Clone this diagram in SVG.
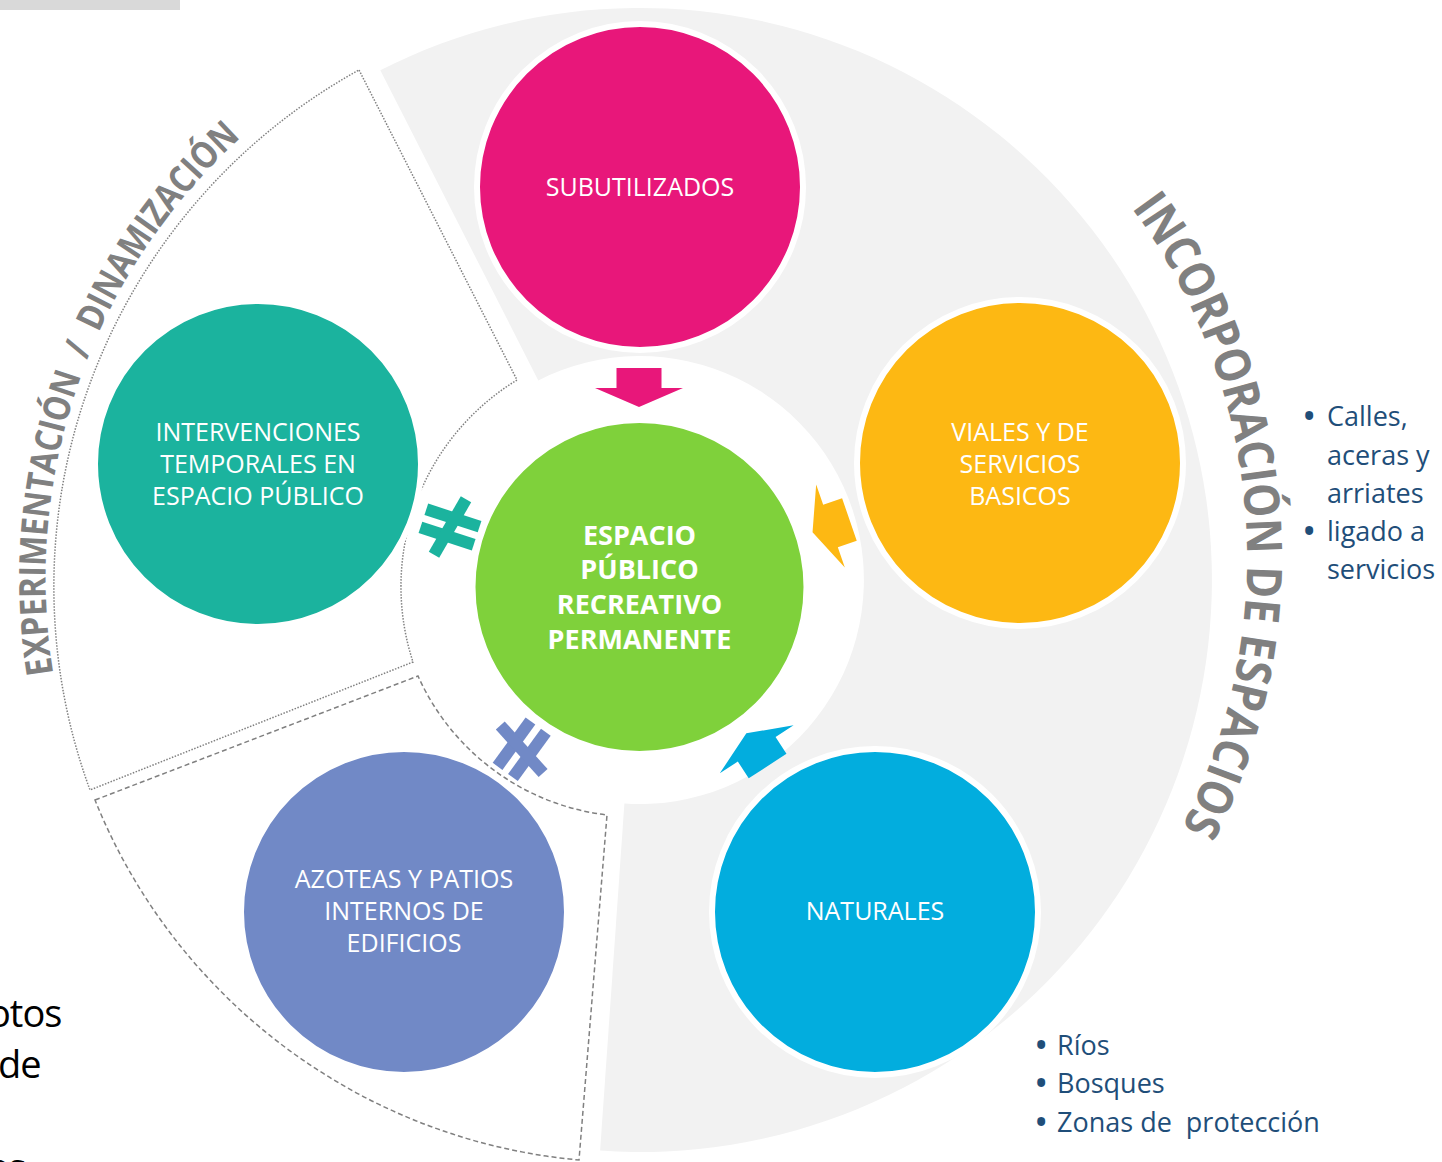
<svg xmlns="http://www.w3.org/2000/svg" xmlns:xlink="http://www.w3.org/1999/xlink" width="1442" height="1162" viewBox="0 0 1442 1162">
<style>
.lbl{font-family:"Open Sans","DejaVu Sans",sans-serif;font-size:25px;fill:#ffffff;text-anchor:middle}
.ctr{font-family:"Open Sans","DejaVu Sans",sans-serif;font-size:27px;font-weight:700;fill:#ffffff;text-anchor:middle}
.arc{font-family:"Open Sans","DejaVu Sans",sans-serif;font-weight:700;fill:#808080}
.bul{font-family:"Open Sans","DejaVu Sans",sans-serif;font-size:27px;fill:#1F4E79}
.dot{font-family:"Open Sans","DejaVu Sans",sans-serif;font-size:38px;fill:#1F4E79}
.side{font-family:"Open Sans","DejaVu Sans",sans-serif;font-size:38px;fill:#000000;letter-spacing:-1px}
.ring{stroke:#ffffff;stroke-width:6}
</style>
<defs>
<path id="arr" d="M-20,-22.5H0V-44L19,0L0,44V22.5H-20Z"/>
<g id="ne">
<rect x="-28" y="-15.5" width="56" height="12"/>
<rect x="-28" y="3.5" width="56" height="12"/>
<rect x="-6" y="-32" width="12" height="64" transform="rotate(12)"/>
</g>
<path id="leftArc" d="M53.2,673.6 A596,596 0 0 1 247,132"/>
<path id="rightArc" d="M1131.5,207.7 A589,589 0 0 1 1180.4,829.9"/>
</defs>
<rect width="1442" height="1162" fill="#ffffff"/>
<rect x="0" y="0" width="180" height="10" fill="#D9D9D9"/>

<g id="background">
<path d="M380.3,70.3 A572,572 0 1 1 600.1,1150.6 L624.4,803.5 A224,224 0 1 0 538.3,380.4 Z" fill="#F2F2F2"/>
<path d="M359,70 L517,380 A242,242 0 0 0 413,662 L90,790 A590,590 0 0 1 359,70 Z" fill="none" stroke="#808080" stroke-width="1.5" stroke-dasharray="1.5 1.5"/>
<path d="M95,800 L418,676 A238,238 0 0 0 607,815 L579,1160 A578,578 0 0 1 95,800 Z" fill="none" stroke="#808080" stroke-width="1.5" stroke-dasharray="5 3"/>
</g>

<g id="connectors">
<use xlink:href="#arr" href="#arr" fill="#E8177A" transform="translate(639,388) rotate(90)"/>
<use xlink:href="#arr" href="#arr" fill="#FDB813" transform="translate(830.5,526) rotate(161)"/>
<use xlink:href="#arr" href="#arr" fill="#02ADDE" transform="translate(756.7,749.3) rotate(-123)"/>
<use xlink:href="#ne" href="#ne" fill="#1BB39E" transform="translate(450,527) rotate(18)"/>
<use xlink:href="#ne" href="#ne" fill="#7189C6" transform="translate(521.7,749.3) rotate(-54)"/>
</g>

<g id="node-subutilizados">
<circle class="ring" cx="640" cy="187" r="163" fill="#E8177A"/>
<text class="lbl" x="640" y="196">SUBUTILIZADOS</text>
</g>

<g id="node-viales">
<circle class="ring" cx="1020" cy="463" r="163" fill="#FDB813"/>
<text class="lbl" x="1020" y="441">VIALES Y DE</text>
<text class="lbl" x="1020" y="473">SERVICIOS</text>
<text class="lbl" x="1020" y="505">BASICOS</text>
</g>

<g id="node-naturales">
<circle class="ring" cx="875" cy="912" r="163" fill="#02ADDE"/>
<text class="lbl" x="875" y="920">NATURALES</text>
</g>

<g id="node-azoteas">
<circle class="ring" cx="404" cy="912" r="163" fill="#7189C6"/>
<text class="lbl" x="404" y="888">AZOTEAS Y PATIOS</text>
<text class="lbl" x="404" y="920">INTERNOS DE</text>
<text class="lbl" x="404" y="952">EDIFICIOS</text>
</g>

<g id="node-intervenciones">
<circle class="ring" cx="258" cy="464" r="163" fill="#1BB39E"/>
<text class="lbl" x="258" y="441">INTERVENCIONES</text>
<text class="lbl" x="258" y="473">TEMPORALES EN</text>
<text class="lbl" x="258" y="505">ESPACIO PÚBLICO</text>
</g>

<g id="node-centro">
<circle class="ring" cx="639.5" cy="587" r="167" fill="#7FD13B"/>
<text class="ctr" x="639.5" y="544.5">ESPACIO</text>
<text class="ctr" x="639.5" y="579">PÚBLICO</text>
<text class="ctr" x="639.5" y="614">RECREATIVO</text>
<text class="ctr" x="639.5" y="649">PERMANENTE</text>
</g>

<g id="label-experimentacion">
<text class="arc" font-size="37" textLength="592" lengthAdjust="spacingAndGlyphs" xml:space="preserve"><textPath xlink:href="#leftArc" href="#leftArc">EXPERIMENTACIÓN  /  DINAMIZACIÓN</textPath></text>
</g>

<g id="label-incorporacion">
<text class="arc" font-size="49" textLength="655" lengthAdjust="spacingAndGlyphs"><textPath xlink:href="#rightArc" href="#rightArc">INCORPORACIÓN DE ESPACIOS</textPath></text>
</g>

<g id="notes-viales">
<text class="dot" x="1302" y="430">•</text>
<text class="bul" x="1327" y="426">Calles,</text>
<text class="bul" x="1327" y="465">aceras y</text>
<text class="bul" x="1327" y="503">arriates</text>
<text class="dot" x="1302" y="545">•</text>
<text class="bul" x="1327" y="541">ligado a</text>
<text class="bul" x="1327" y="579">servicios</text>
</g>

<g id="notes-naturales">
<text class="dot" x="1034" y="1059">•</text>
<text class="bul" x="1057" y="1055">Ríos</text>
<text class="dot" x="1034" y="1097">•</text>
<text class="bul" x="1057" y="1093">Bosques</text>
<text class="dot" x="1034" y="1136">•</text>
<text class="bul" x="1057" y="1132" xml:space="preserve">Zonas de  protección</text>
</g>

<g id="side-text">
<text class="side" x="-12" y="1027">otos</text>
<text class="side" x="-2" y="1078">de</text>
<text class="side" x="-12" y="1181">es</text>
</g>
</svg>
